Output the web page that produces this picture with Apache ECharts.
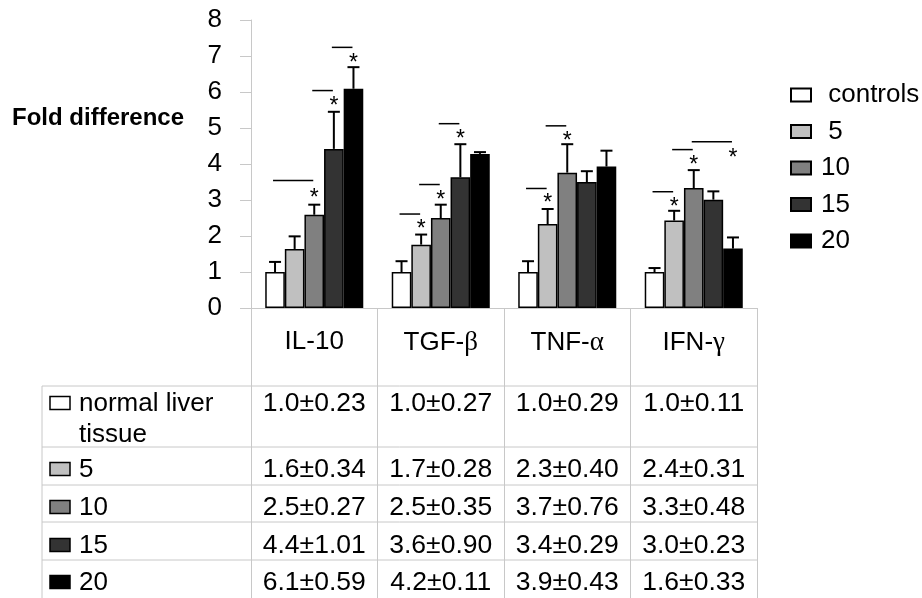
<!DOCTYPE html>
<html>
<head>
<meta charset="utf-8">
<script src="https://cdn.jsdelivr.net/npm/echarts@6/dist/echarts.min.js"></script>
<style>
html, body { margin: 0; padding: 0; background: #fff; }
#main { width: 922px; height: 598px; }
</style>
</head>
<body>
<div id="main"></div>
<script>
var categories = ['IL-10', 'TGF-β', 'TNF-α', 'IFN-γ'];
var seriesNames = [' controls', ' 5', '10', '15', '20'];
var seriesColors = ['#ffffff', '#c0c0c0', '#808080', '#333333', '#000000'];

// bar heights
var controlsVals = [1.0, 1.0, 1.0, 1.0];
var dose5Vals = [1.64, 1.76, 2.33, 2.43];
var dose10Vals = [2.59, 2.5, 3.76, 3.33];
var dose15Vals = [4.42, 3.63, 3.5, 3.01];
var dose20Vals = [6.09, 4.28, 3.93, 1.65];

// upper error bar lengths
var controlsErr = [0.28, 0.30, 0.30, 0.11];
var dose5Err = [0.35, 0.28, 0.42, 0.27];
var dose10Err = [0.28, 0.37, 0.79, 0.50];
var dose15Err = [1.03, 0.92, 0.30, 0.23];
var dose20Err = [0.60, 0.05, 0.44, 0.31];

// significance lines: [category, from bar, to bar, height]
var sigLines = [
    [0, 0, 2, 3.54], [0, 2, 3, 6.04], [0, 3, 4, 7.24],
    [1, 0, 1, 2.61], [1, 1, 2, 3.43], [1, 2, 3, 5.12],
    [2, 0, 1, 3.32], [2, 1, 2, 5.06],
    [3, 0, 1, 3.23], [3, 1, 2, 4.40], [3, 2, 4, 4.62]
];
// asterisks: [category, bar, height]
var sigStars = [
    [0, 2, 3.17], [0, 3, 5.74], [0, 4, 6.92],
    [1, 1, 2.31], [1, 2, 3.12], [1, 3, 4.81],
    [2, 1, 3.03], [2, 2, 4.77],
    [3, 1, 2.94], [3, 2, 4.09], [3, 4, 4.28]
];

// table under the chart
var rowLabels = ['normal liver\ntissue', '5', '10', '15', '20'];
var rowControls = ['1.0±0.23', '1.0±0.27', '1.0±0.29', '1.0±0.11'];
var row5 = ['1.6±0.34', '1.7±0.28', '2.3±0.40', '2.4±0.31'];
var row10 = ['2.5±0.27', '2.5±0.35', '3.7±0.76', '3.3±0.48'];
var row15 = ['4.4±1.01', '3.6±0.90', '3.4±0.29', '3.0±0.23'];
var row20 = ['6.1±0.59', '4.2±0.11', '3.9±0.43', '1.6±0.33'];

var FONT = "'Liberation Sans', Arial, sans-serif";
var SERIF = "'Liberation Serif', 'DejaVu Serif', serif";
var CAT_GAP = 0.225;
var GRID = { left: 251, right: 165, top: 20, bottom: 290 };

var allVals = [controlsVals, dose5Vals, dose10Vals, dose15Vals, dose20Vals];
var allErrs = [controlsErr, dose5Err, dose10Err, dose15Err, dose20Err];
var allRows = [rowControls, row5, row10, row15, row20];

var chart = echarts.init(document.getElementById('main'));

function barCenter(api, cat, idx) {
    var c = api.coord([cat, 0]);
    var band = api.size([1, 0])[0];
    var bw = band * (1 - CAT_GAP) / 5;
    return c[0] + (idx - 2) * bw;
}

function renderErr(params, api) {
    var cat = api.value(0), val = api.value(1), err = api.value(2), idx = api.value(3);
    var x = barCenter(api, cat, idx);
    var y0 = api.coord([cat, val])[1];
    var y1 = api.coord([cat, val + err])[1];
    return {
        type: 'group',
        children: [
            { type: 'line', shape: { x1: x, y1: y0, x2: x, y2: y1 }, style: { stroke: '#000', lineWidth: 2 } },
            { type: 'line', shape: { x1: x - 6, y1: y1, x2: x + 6, y2: y1 }, style: { stroke: '#000', lineWidth: 2 } }
        ]
    };
}

function renderSigLine(params, api) {
    var cat = api.value(0), a = api.value(1), b = api.value(2), h = api.value(3);
    var y = api.coord([cat, h])[1];
    return {
        type: 'line',
        shape: { x1: barCenter(api, cat, a) - 2, y1: y, x2: barCenter(api, cat, b) - 1, y2: y },
        style: { stroke: '#000', lineWidth: 1.5 }
    };
}

function renderStar(params, api) {
    var cat = api.value(0), idx = api.value(1), h = api.value(2);
    var y = api.coord([cat, h])[1];
    return {
        type: 'text',
        x: barCenter(api, cat, idx),
        y: y + 5,
        style: { text: '*', fontSize: 23, fontFamily: FONT, fill: '#000', align: 'center', verticalAlign: 'middle' }
    };
}

var errData = [];
for (var s = 0; s < 5; s++) {
    for (var c = 0; c < categories.length; c++) {
        errData.push([c, allVals[s][c], allErrs[s][c], s]);
    }
}

var series = seriesNames.map(function(name, i) {
    return {
        name: name,
        type: 'bar',
        data: allVals[i],
        barGap: '0%',
        barCategoryGap: (CAT_GAP * 100) + '%',
        itemStyle: { color: seriesColors[i], borderColor: '#000', borderWidth: 1.5 }
    };
});
series.push({ type: 'custom', renderItem: renderErr, data: errData, z: 5, encode: { x: 0, y: 1 }, silent: true });
series.push({ type: 'custom', renderItem: renderSigLine, data: sigLines, z: 5, encode: { x: 0, y: 3 }, silent: true });
series.push({ type: 'custom', renderItem: renderStar, data: sigStars, z: 5, encode: { x: 0, y: 2 }, silent: true });

function catLabel(v) {
    var parts = v.split('-');
    if (parts[1].length === 1 && /[α-ω]/.test(parts[1])) {
        return '{a|' + parts[0] + '-}{g|' + parts[1] + '}';
    }
    return '{a|' + v + '}';
}

chart.setOption({
    animation: false,
    backgroundColor: '#fff',
    textStyle: { fontFamily: FONT },
    grid: GRID,
    legend: {
        orient: 'vertical',
        left: 785,
        top: 77,
        icon: 'rect',
        itemWidth: 20,
        itemHeight: 13,
        itemGap: 10.5,
        data: seriesNames,
        textStyle: { fontSize: 26, lineHeight: 25, color: '#000', fontFamily: FONT, padding: [0, 0, 0, 5] }
    },
    xAxis: {
        type: 'category',
        data: categories,
        axisLine: { lineStyle: { color: '#c8c8c8', width: 1 } },
        axisTick: { show: true, length: 290, lineStyle: { color: '#c8c8c8' } },
        axisLabel: {
            margin: 21,
            formatter: catLabel,
            rich: {
                a: { fontSize: 26, fontFamily: FONT, color: '#000' },
                g: { fontSize: 27, fontFamily: SERIF, color: '#000' }
            }
        }
    },
    yAxis: {
        type: 'value',
        min: 0,
        max: 8,
        interval: 1,
        splitLine: { show: false },
        axisLine: { show: true, lineStyle: { color: '#c8c8c8' } },
        axisTick: { show: true, length: 11, lineStyle: { color: '#c8c8c8' } },
        axisLabel: { fontSize: 26, color: '#000', margin: 29, fontFamily: FONT }
    },
    series: series
});

// table grid and cells, placed from the axis positions
var colCenters = categories.map(function(c, i) {
    return chart.convertToPixel({ xAxisIndex: 0 }, i);
});
var tableLeft = 42;
var tableRight = 922 - GRID.right;
var rowTops = [386, 447, 485, 522, 560];
var textY = [404, 470, 508, 546, 583];

var graphics = [];
graphics.push({
    type: 'text', left: 12, top: 106,
    style: { text: 'Fold difference', fontSize: 24, fontWeight: 'bold', fontFamily: FONT, fill: '#000' }
});
rowTops.forEach(function(y) {
    graphics.push({ type: 'line', shape: { x1: tableLeft, y1: y, x2: tableRight, y2: y }, style: { stroke: '#c8c8c8', lineWidth: 1 } });
});
graphics.push({ type: 'line', shape: { x1: tableLeft, y1: rowTops[0], x2: tableLeft, y2: 598 }, style: { stroke: '#c8c8c8', lineWidth: 1 } });

rowLabels.forEach(function(label, r) {
    graphics.push({
        type: 'rect', shape: { x: 50, y: textY[r] - 7.5, width: 20, height: 13 },
        style: { fill: seriesColors[r], stroke: '#000', lineWidth: 1.5 }
    });
    graphics.push({
        type: 'text', x: 79, y: textY[r] - 15.5,
        style: { text: label, fontSize: 26, lineHeight: 31, fontFamily: FONT, fill: '#000', verticalAlign: 'top' }
    });
    allRows[r].forEach(function(cell, c) {
        graphics.push({
            type: 'text', x: colCenters[c], y: textY[r],
            style: { text: cell, fontSize: 26.5, fontFamily: FONT, fill: '#000', align: 'center', verticalAlign: 'middle' }
        });
    });
});

chart.setOption({ graphic: graphics });
</script>
</body>
</html>
